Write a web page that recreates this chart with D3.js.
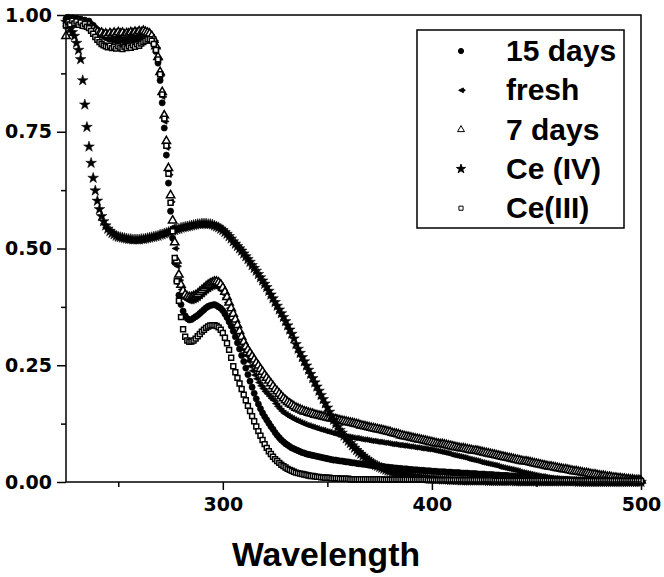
<!DOCTYPE html>
<html><head><meta charset="utf-8">
<script src="https://cdn.jsdelivr.net/npm/d3@7/dist/d3.min.js"></script>
<style>html,body{margin:0;padding:0;background:#fff;}svg{display:block;}</style>
</head><body><div id="chart"></div>
<script>
// Wavelength grid (nm), 1 nm steps
const wavelengthStart = 225, wavelengthEnd = 500;
const seriesNames = ["15 days", "fresh", "7 days", "Ce (IV)", "Ce(III)"];
const xTickLabels = [300, 400, 500];
const xMinorTicks = [250, 350, 450];
const yTickLabels = [0, 0.25, 0.5, 0.75, 1.0];
const yMinorTicks = [0.125, 0.375, 0.625, 0.875];

const days15 = [
0.992,0.995,0.990,0.994,0.989,0.993,0.988,0.991,0.986,0.989,
0.984,0.987,0.980,0.978,0.972,0.968,0.962,0.958,0.955,0.952,
0.950,0.948,0.952,0.946,0.949,0.945,0.950,0.947,0.944,0.948,
0.946,0.950,0.945,0.949,0.951,0.948,0.952,0.950,0.953,0.951,
0.950,0.946,0.938,0.922,0.897,0.860,0.812,0.758,0.700,0.640,
0.580,0.522,0.470,0.430,0.400,0.380,0.366,0.356,0.350,0.347,
0.348,0.351,0.354,0.357,0.361,0.365,0.369,0.373,0.376,0.378,
0.379,0.380,0.378,0.375,0.372,0.367,0.360,0.352,0.343,0.334,
0.323,0.311,0.298,0.285,0.271,0.258,0.244,0.230,0.216,0.203,
0.190,0.178,0.167,0.157,0.148,0.140,0.133,0.126,0.119,0.113,
0.106,0.100,0.095,0.090,0.086,0.082,0.079,0.076,0.073,0.071,
0.069,0.067,0.065,0.063,0.062,0.060,0.059,0.058,0.057,0.056,
0.055,0.054,0.053,0.052,0.051,0.050,0.049,0.048,0.047,0.047,
0.046,0.045,0.045,0.044,0.043,0.043,0.042,0.041,0.041,0.040,
0.039,0.039,0.038,0.038,0.037,0.036,0.036,0.035,0.035,0.034,
0.034,0.033,0.033,0.032,0.032,0.031,0.031,0.030,0.030,0.029,
0.029,0.028,0.028,0.028,0.027,0.027,0.026,0.026,0.026,0.025,
0.025,0.025,0.024,0.024,0.024,0.023,0.023,0.023,0.022,0.022,
0.022,0.022,0.021,0.021,0.021,0.020,0.020,0.020,0.020,0.019,
0.019,0.019,0.019,0.018,0.018,0.018,0.018,0.017,0.017,0.017,
0.017,0.016,0.016,0.016,0.016,0.015,0.015,0.015,0.014,0.014,
0.014,0.014,0.013,0.013,0.013,0.012,0.012,0.012,0.011,0.011,
0.011,0.010,0.010,0.010,0.009,0.009,0.009,0.008,0.008,0.008,
0.007,0.007,0.007,0.006,0.006,0.006,0.006,0.005,0.005,0.005,
0.005,0.004,0.004,0.004,0.004,0.004,0.003,0.003,0.003,0.003,
0.003,0.003,0.002,0.002,0.002,0.002,0.002,0.002,0.002,0.002,
0.001,0.001,0.001,0.001,0.001,0.001,0.001,0.001,0.001,0.001,
0.001,0.000,0.000,0.000,0.000,0.000];

const fresh = [
0.985,0.990,0.987,0.992,0.986,0.990,0.984,0.988,0.983,0.986,
0.980,0.983,0.977,0.975,0.970,0.966,0.963,0.960,0.958,0.956,
0.955,0.957,0.953,0.956,0.954,0.958,0.955,0.953,0.957,0.954,
0.956,0.953,0.957,0.955,0.958,0.956,0.959,0.957,0.960,0.958,
0.957,0.953,0.945,0.930,0.905,0.870,0.825,0.772,0.716,0.658,
0.600,0.546,0.500,0.462,0.432,0.412,0.400,0.393,0.389,0.387,
0.387,0.389,0.391,0.394,0.398,0.402,0.406,0.410,0.413,0.416,
0.418,0.419,0.418,0.415,0.410,0.403,0.394,0.384,0.372,0.360,
0.347,0.334,0.321,0.308,0.295,0.283,0.271,0.259,0.248,0.238,
0.229,0.221,0.213,0.206,0.200,0.194,0.189,0.184,0.179,0.175,
0.168,0.162,0.157,0.152,0.148,0.145,0.142,0.139,0.137,0.134,
0.132,0.130,0.128,0.126,0.124,0.122,0.121,0.119,0.118,0.116,
0.115,0.113,0.112,0.111,0.109,0.108,0.107,0.105,0.104,0.103,
0.101,0.100,0.099,0.098,0.097,0.097,0.096,0.095,0.094,0.094,
0.093,0.092,0.091,0.091,0.090,0.089,0.088,0.088,0.087,0.086,
0.086,0.085,0.084,0.084,0.083,0.082,0.081,0.081,0.080,0.079,
0.079,0.078,0.078,0.077,0.076,0.076,0.075,0.074,0.074,0.073,
0.072,0.072,0.071,0.070,0.070,0.069,0.068,0.067,0.066,0.065,
0.064,0.063,0.062,0.061,0.059,0.058,0.057,0.056,0.055,0.054,
0.053,0.052,0.050,0.049,0.048,0.047,0.046,0.045,0.043,0.042,
0.041,0.040,0.039,0.038,0.037,0.036,0.035,0.033,0.032,0.031,
0.030,0.029,0.028,0.027,0.026,0.025,0.024,0.022,0.021,0.020,
0.019,0.018,0.017,0.016,0.015,0.014,0.013,0.012,0.012,0.011,
0.010,0.009,0.009,0.008,0.008,0.007,0.007,0.006,0.006,0.005,
0.005,0.004,0.004,0.004,0.003,0.003,0.003,0.003,0.002,0.002,
0.002,0.002,0.002,0.001,0.001,0.001,0.001,0.001,0.001,0.001,
0.001,0.001,0.000,0.000,0.000,0.000,0.000,0.000,0.000,0.000,
0.000,0.000,0.000,0.000,0.000,0.000];

const days7 = [
0.955,0.978,0.984,0.980,0.987,0.982,0.986,0.979,0.984,0.978,
0.976,0.979,0.973,0.970,0.966,0.964,0.960,0.962,0.958,0.960,
0.957,0.961,0.958,0.962,0.959,0.963,0.960,0.962,0.958,0.961,
0.960,0.963,0.961,0.964,0.962,0.965,0.963,0.966,0.964,0.962,
0.960,0.955,0.947,0.933,0.910,0.878,0.835,0.785,0.730,0.672,
0.614,0.560,0.513,0.474,0.444,0.422,0.409,0.401,0.397,0.396,
0.396,0.398,0.400,0.403,0.407,0.411,0.415,0.419,0.422,0.425,
0.427,0.429,0.429,0.427,0.423,0.416,0.407,0.396,0.384,0.372,
0.360,0.348,0.336,0.323,0.311,0.300,0.290,0.283,0.276,0.269,
0.262,0.255,0.249,0.242,0.236,0.229,0.223,0.217,0.211,0.205,
0.199,0.194,0.189,0.184,0.179,0.175,0.171,0.168,0.165,0.162,
0.159,0.157,0.155,0.153,0.151,0.150,0.148,0.147,0.146,0.144,
0.143,0.142,0.141,0.140,0.139,0.138,0.137,0.136,0.135,0.134,
0.133,0.132,0.131,0.130,0.129,0.128,0.127,0.126,0.125,0.124,
0.123,0.121,0.120,0.119,0.118,0.117,0.116,0.115,0.114,0.113,
0.112,0.111,0.110,0.109,0.108,0.107,0.105,0.104,0.103,0.102,
0.100,0.099,0.098,0.097,0.096,0.095,0.094,0.093,0.092,0.091,
0.090,0.089,0.088,0.087,0.086,0.085,0.084,0.083,0.082,0.081,
0.081,0.080,0.079,0.078,0.077,0.076,0.075,0.074,0.073,0.072,
0.072,0.071,0.070,0.069,0.068,0.067,0.067,0.066,0.065,0.064,
0.063,0.062,0.061,0.060,0.059,0.058,0.057,0.056,0.055,0.054,
0.053,0.052,0.051,0.050,0.049,0.048,0.047,0.046,0.045,0.044,
0.044,0.043,0.042,0.041,0.040,0.039,0.038,0.037,0.036,0.035,
0.034,0.033,0.033,0.032,0.031,0.030,0.029,0.028,0.027,0.027,
0.026,0.025,0.024,0.023,0.023,0.022,0.021,0.020,0.019,0.019,
0.018,0.017,0.016,0.016,0.015,0.014,0.013,0.013,0.012,0.011,
0.011,0.010,0.009,0.009,0.008,0.008,0.007,0.007,0.006,0.006,
0.005,0.005,0.004,0.004,0.004,0.003];

const ceIV = [
0.985,0.978,0.970,0.963,0.955,0.940,0.925,0.905,0.860,0.808,
0.760,0.718,0.683,0.651,0.624,0.602,0.584,0.569,0.558,0.549,
0.542,0.537,0.533,0.530,0.527,0.525,0.524,0.523,0.522,0.521,
0.520,0.520,0.519,0.519,0.519,0.519,0.520,0.520,0.521,0.522,
0.523,0.524,0.525,0.526,0.527,0.529,0.530,0.532,0.533,0.535,
0.536,0.538,0.539,0.541,0.542,0.544,0.545,0.546,0.547,0.548,
0.549,0.550,0.551,0.552,0.552,0.553,0.553,0.553,0.552,0.552,
0.551,0.549,0.547,0.545,0.542,0.539,0.535,0.531,0.526,0.521,
0.515,0.510,0.505,0.500,0.495,0.489,0.483,0.477,0.471,0.464,
0.458,0.452,0.445,0.438,0.431,0.424,0.417,0.409,0.401,0.393,
0.385,0.377,0.369,0.361,0.353,0.344,0.335,0.326,0.317,0.307,
0.295,0.285,0.276,0.267,0.258,0.249,0.240,0.231,0.222,0.213,
0.204,0.195,0.186,0.177,0.168,0.159,0.150,0.141,0.133,0.125,
0.118,0.111,0.105,0.099,0.093,0.088,0.083,0.078,0.073,0.068,
0.064,0.060,0.056,0.052,0.048,0.045,0.042,0.039,0.036,0.034,
0.032,0.030,0.028,0.026,0.024,0.023,0.021,0.020,0.019,0.018,
0.017,0.016,0.015,0.014,0.013,0.012,0.012,0.011,0.010,0.010,
0.009,0.009,0.008,0.008,0.007,0.007,0.007,0.006,0.006,0.006,
0.005,0.005,0.005,0.005,0.004,0.004,0.004,0.004,0.004,0.003,
0.003,0.003,0.003,0.003,0.003,0.003,0.003,0.003,0.003,0.003,
0.003,0.003,0.002,0.002,0.002,0.002,0.002,0.002,0.002,0.002,
0.002,0.002,0.002,0.002,0.002,0.001,0.001,0.001,0.001,0.001,
0.001,0.001,0.001,0.001,0.001,0.001,0.001,0.001,0.001,0.001,
0.001,0.001,0.001,0.001,0.001,0.001,0.001,0.001,0.001,0.001,
0.001,0.001,0.001,0.001,0.001,0.000,0.000,0.000,0.000,0.000,
0.000,0.000,0.000,0.000,0.000,0.000,0.000,0.000,0.000,0.000,
0.000,0.000,0.000,0.000,0.000,0.000,0.000,0.000,0.000,0.000,
0.000,0.000,0.000,0.000,0.000,0.000];

const ceIII = [
0.978,0.985,0.980,0.988,0.982,0.986,0.979,0.984,0.977,0.981,
0.975,0.972,0.966,0.960,0.953,0.947,0.942,0.938,0.935,0.933,
0.931,0.934,0.929,0.932,0.928,0.933,0.930,0.927,0.932,0.929,
0.933,0.930,0.935,0.932,0.937,0.934,0.939,0.942,0.945,0.948,
0.948,0.945,0.938,0.925,0.905,0.873,0.830,0.778,0.720,0.660,
0.598,0.537,0.480,0.430,0.388,0.353,0.327,0.311,0.303,0.300,
0.301,0.303,0.307,0.312,0.317,0.322,0.326,0.330,0.333,0.335,
0.336,0.336,0.334,0.331,0.326,0.319,0.309,0.297,0.283,0.266,
0.248,0.235,0.223,0.211,0.199,0.187,0.175,0.163,0.152,0.141,
0.130,0.119,0.109,0.099,0.090,0.081,0.073,0.066,0.060,0.054,
0.049,0.045,0.041,0.037,0.034,0.031,0.028,0.026,0.024,0.022,
0.020,0.019,0.018,0.017,0.016,0.015,0.014,0.013,0.013,0.012,
0.011,0.011,0.010,0.010,0.009,0.009,0.009,0.008,0.008,0.008,
0.008,0.007,0.007,0.007,0.007,0.007,0.006,0.006,0.006,0.006,
0.006,0.006,0.006,0.006,0.006,0.006,0.006,0.006,0.006,0.006,
0.006,0.006,0.005,0.005,0.005,0.005,0.005,0.005,0.005,0.005,
0.005,0.005,0.005,0.005,0.005,0.005,0.005,0.005,0.005,0.005,
0.005,0.005,0.005,0.004,0.004,0.004,0.004,0.004,0.004,0.004,
0.004,0.004,0.004,0.004,0.004,0.004,0.004,0.004,0.004,0.004,
0.004,0.004,0.004,0.004,0.004,0.004,0.004,0.004,0.004,0.004,
0.004,0.004,0.004,0.004,0.004,0.003,0.003,0.003,0.003,0.003,
0.003,0.003,0.003,0.003,0.003,0.003,0.003,0.003,0.003,0.003,
0.003,0.003,0.003,0.003,0.003,0.003,0.003,0.003,0.003,0.003,
0.003,0.003,0.003,0.003,0.003,0.003,0.003,0.003,0.003,0.003,
0.003,0.003,0.003,0.003,0.003,0.002,0.002,0.002,0.002,0.002,
0.002,0.002,0.002,0.002,0.002,0.002,0.002,0.002,0.002,0.002,
0.002,0.002,0.002,0.002,0.002,0.002,0.002,0.002,0.002,0.002,
0.002,0.002,0.002,0.002,0.002,0.002];

const wavelengths = d3.range(wavelengthStart, wavelengthEnd + 1);

const W = 664, H = 577;
const plot = {left: 66, right: 641, top: 15, bottom: 482};

const svg = d3.select("#chart").append("svg").attr("width", W).attr("height", H);
svg.append("rect").attr("width", W).attr("height", H).attr("fill", "#fff");

const x = d3.scaleLinear().domain([wavelengthStart, wavelengthEnd]).range([plot.left, plot.right]);
const y = d3.scaleLinear().domain([0, 1]).range([plot.bottom, plot.top]);

// symbols
const leftTri = {draw(ctx, size) { const r = Math.sqrt(size) * 0.6; ctx.moveTo(-r, 0); ctx.lineTo(r, -r); ctx.lineTo(r, r); ctx.closePath(); ctx.moveTo(r, -0.6); ctx.lineTo(r + 1.6, -0.6); ctx.lineTo(r + 1.6, 0.6); ctx.lineTo(r, 0.6); ctx.closePath(); }};
const seriesDefs = [
  {name: seriesNames[0], data: days15, type: d3.symbolCircle, size: 30, fill: "#000", stroke: "#000", sw: 0.6},
  {name: seriesNames[1], data: fresh, type: leftTri, size: 22, fill: "#000", stroke: "#000", sw: 0.6},
  {name: seriesNames[2], data: days7, type: d3.symbolTriangle, size: 30, fill: "#fff", stroke: "#000", sw: 1.5},
  {name: seriesNames[3], data: ceIV, type: d3.symbolStar, size: 36, fill: "#000", stroke: "#000", sw: 0.5},
  {name: seriesNames[4], data: ceIII, type: d3.symbolSquare, size: 24, fill: "#fff", stroke: "#000", sw: 1.5}
];

const g = svg.append("g");
seriesDefs.forEach(s => {
  const pts = wavelengths.map((w, i) => [w, s.data[i]]).filter(d => d[1] !== undefined);
  g.append("g").selectAll("path").data(pts).join("path")
    .attr("transform", d => `translate(${x(d[0])},${y(d[1])})`)
    .attr("d", d3.symbol().type(s.type).size(s.size))
    .attr("fill", s.fill).attr("stroke", s.stroke).attr("stroke-width", s.sw);
});

// frame
svg.append("rect").attr("x", plot.left).attr("y", plot.top)
  .attr("width", plot.right - plot.left).attr("height", plot.bottom - plot.top)
  .attr("fill", "none").attr("stroke", "#000").attr("stroke-width", 1.5);

const tickFont = "'DejaVu Sans', sans-serif";
// x axis
svg.append("g").attr("transform", `translate(0,${plot.bottom})`)
  .call(d3.axisBottom(x).tickValues(xTickLabels).tickSize(8).tickPadding(8).tickFormat(d3.format("d")));
svg.append("g").attr("transform", `translate(0,${plot.bottom})`)
  .call(d3.axisBottom(x).tickValues(xMinorTicks).tickSize(5).tickFormat(""));
// y axis
svg.append("g").attr("transform", `translate(${plot.left},0)`)
  .call(d3.axisLeft(y).tickValues(yTickLabels).tickSize(9).tickPadding(5).tickFormat(d3.format(".2f")));
svg.append("g").attr("transform", `translate(${plot.left},0)`)
  .call(d3.axisLeft(y).tickValues(yMinorTicks).tickSize(5).tickFormat(""));
svg.selectAll(".domain").remove();
svg.selectAll(".tick line").attr("stroke", "#000").attr("stroke-width", 1.5);
svg.selectAll(".tick text").attr("font-family", tickFont).attr("font-weight", "bold")
  .attr("font-size", 19).attr("fill", "#000");

// x axis title
svg.append("text").attr("x", 326).attr("y", 566).attr("text-anchor", "middle")
  .attr("font-family", "'Liberation Sans', Arial, sans-serif").attr("font-weight", "bold")
  .attr("font-size", 34).attr("textLength", 188).attr("lengthAdjust", "spacingAndGlyphs")
  .text("Wavelength");

// legend
const leg = svg.append("g");
leg.append("rect").attr("x", 417).attr("y", 30).attr("width", 207).attr("height", 198)
  .attr("fill", "#fff").attr("stroke", "#000").attr("stroke-width", 1.5);
seriesDefs.forEach((s, i) => {
  const cy = 51 + i * 39.3;
  leg.append("path").attr("transform", `translate(461,${cy})`)
    .attr("d", d3.symbol().type(s.type).size(s.size * 0.7))
    .attr("fill", s.fill).attr("stroke", s.stroke).attr("stroke-width", 1);
  leg.append("text").attr("x", 506).attr("y", cy + 10)
    .attr("font-family", "'Liberation Sans', Arial, sans-serif").attr("font-weight", "bold")
    .attr("font-size", 30).text(s.name);
});
</script></body></html>
